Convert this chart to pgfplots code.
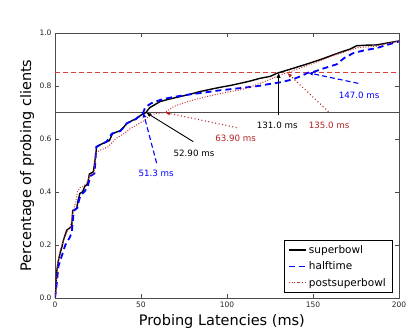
\documentclass[border=0pt]{standalone}
\usepackage{fontspec}
\setmainfont{DejaVu Sans}
\usepackage{pgfplots}
\pgfplotsset{compat=1.18}
\usetikzlibrary{arrows.meta}

\definecolor{sbred}{RGB}{200,55,55}
\definecolor{annred}{RGB}{178,34,34}
\definecolor{hlred}{RGB}{225,60,60}

\begin{document}
\begin{tikzpicture}
\path[use as bounding box] (-55pt,-35pt) rectangle (360pt,298pt);
\begin{axis}[
  scale only axis, width=344pt, height=265pt,
  xmin=0, xmax=200, ymin=0, ymax=1,
  xtick={0,50,100,150,200}, ytick={0,0.2,...,1.0},
  yticklabel style={/pgf/number format/.cd,fixed,fixed zerofill,precision=1},
  /pgf/number format/assume math mode=true,
  tick pos=both, xticklabel pos=lower, yticklabel pos=left,
  tick align=inside, major tick length=4pt,
  tick style={black!70, line width=0.6pt},
  axis line style={black!70, line width=0.8pt},
  ticklabel style={font=\fontsize{7.5}{9}\selectfont, black!85},
  xlabel={Probing Latencies (ms)},
  ylabel={Percentage of probing clients},
  label style={font=\fontsize{14.5}{17}\selectfont},
  xlabel style={at={(axis description cs:0.485,-0.09)}, anchor=center},
  ylabel style={at={(axis description cs:-0.081,0.5)}, anchor=center},
  legend style={at={(rel axis cs:0.98,0.019)}, anchor=south east,
    draw=black, line width=0.6pt, fill=white,
    font=\fontsize{10.5}{12.5}\selectfont, cells={anchor=west},
    inner xsep=4pt, inner ysep=3pt, row sep=3pt},
]
\addplot[black!70, line width=1pt, forget plot] coordinates {(0,0.7) (200,0.7)};
\addplot[hlred, line width=0.8pt, dash pattern=on 5pt off 3pt, forget plot] coordinates {(0,0.85) (200,0.85)};

\addplot[black, line width=1.4pt] coordinates {
(0,0) (0.5,0.03) (1,0.1) (1.9,0.14) (3,0.17) (3.9,0.19) (5,0.22) (6.8,0.256)
(9.7,0.27) (10.3,0.33) (12.6,0.338) (13.5,0.37) (14.5,0.395) (16,0.40)
(17.4,0.422) (19,0.43) (20,0.468) (22.3,0.476) (23.5,0.53) (24.2,0.571)
(26,0.578) (28.1,0.584) (31.6,0.594) (33.5,0.621) (37.8,0.631) (40,0.645)
(41.7,0.659) (45,0.67) (47.5,0.678) (50,0.69) (52.9,0.70) (55,0.718)
(61,0.741) (66,0.75) (72.7,0.76) (78,0.768) (84.3,0.779) (90,0.787)
(95.9,0.795) (102,0.802) (107.6,0.81) (113,0.818) (119.2,0.829) (125,0.836)
(129,0.848) (131,0.852) (138.6,0.867) (146,0.882) (154,0.899) (162,0.918)
(168,0.932) (171.5,0.939) (175.4,0.952) (181,0.954) (187,0.955) (193,0.962)
(200,0.97)};
\addlegendentry{superbowl}

\addplot[blue, line width=1.8pt, dash pattern=on 6pt off 4pt] coordinates {
(0,0) (0.8,0.04) (2,0.12) (3,0.14) (4.5,0.17) (6,0.2) (8.7,0.23) (9.8,0.25)
(10.5,0.30) (11,0.33) (13,0.34) (14,0.37) (15,0.39) (17,0.40) (19,0.42)
(20.5,0.46) (23,0.47) (24,0.57) (27,0.58) (30,0.59) (33,0.62) (38,0.63)
(42,0.66) (47,0.675) (51.3,0.70) (52.5,0.72) (56,0.735) (61,0.747) (66,0.755)
(72,0.762) (78,0.768) (84.3,0.773) (95,0.783) (107.6,0.792) (119.2,0.801)
(125,0.808) (132,0.815) (138.6,0.826) (144,0.84) (147,0.85) (150.2,0.853)
(156,0.866) (163.8,0.882) (168,0.905) (173.4,0.924) (180,0.935) (187,0.943)
(193,0.955) (200,0.968)};
\addlegendentry{halftime}

\addplot[sbred, line width=1pt, dash pattern=on 1pt off 1.6pt] coordinates {
(0,0) (0.6,0.04) (1.5,0.13) (3,0.18) (5,0.22) (7,0.25) (9,0.27) (10.5,0.33)
(12,0.36) (13,0.40) (14.5,0.417) (16,0.42) (18,0.43) (20,0.46) (22.5,0.47)
(24,0.55) (27,0.56) (31,0.571) (35,0.60) (40,0.62) (44,0.64) (47.5,0.653)
(52,0.67) (55.2,0.69) (58,0.695) (63.9,0.70) (68.8,0.722) (75,0.737)
(82,0.75) (88.2,0.76) (95,0.77) (101,0.778) (107.6,0.785) (113,0.795)
(119.2,0.81) (125,0.825) (130,0.84) (135,0.85) (140,0.862) (147,0.878)
(154,0.895) (162,0.915) (168,0.928) (171.5,0.935) (176,0.945) (187,0.95)
(193,0.96) (200,0.97)};
\addlegendentry{postsuperbowl}

% annotations
\draw[black, line width=0.9pt, -{Latex[length=5pt,width=4pt]}] (axis cs:80.4,0.59) -- (axis cs:52.9,0.70);
\draw[blue, line width=1.1pt, dash pattern=on 5pt off 3pt, -{Latex[length=5pt,width=4pt]}] (axis cs:59.1,0.509) -- (axis cs:51.3,0.70);
\draw[annred, line width=1.1pt, dash pattern=on 1pt off 2.5pt, -{Latex[length=5pt,width=4pt]}] (axis cs:105.6,0.643) -- (axis cs:63.9,0.70);
\draw[black, line width=0.9pt, -{Latex[length=5pt,width=4pt]}] (axis cs:130,0.69) -- (axis cs:130,0.85);
\draw[annred, line width=1.1pt, dash pattern=on 1pt off 2.5pt, -{Latex[length=5pt,width=4pt]}] (axis cs:159,0.703) -- (axis cs:135,0.85);
\draw[blue, line width=1.1pt, dash pattern=on 5pt off 3pt, -{Latex[length=5pt,width=4pt]}] (axis cs:176.3,0.81) -- (axis cs:147,0.85);

\begin{scope}[every node/.style={font=\fontsize{8.7}{10}\selectfont, inner sep=0pt}]
\node[black] at (axis cs:80.8,0.546) {52.90 ms};
\node[blue] at (axis cs:58.8,0.470) {51.3 ms};
\node[annred] at (axis cs:105,0.603) {63.90 ms};
\node[black] at (axis cs:129.2,0.653) {131.0 ms};
\node[annred] at (axis cs:159.4,0.650) {135.0 ms};
\node[blue] at (axis cs:176.8,0.763) {147.0 ms};
\end{scope}
\end{axis}
\end{tikzpicture}
\end{document}
